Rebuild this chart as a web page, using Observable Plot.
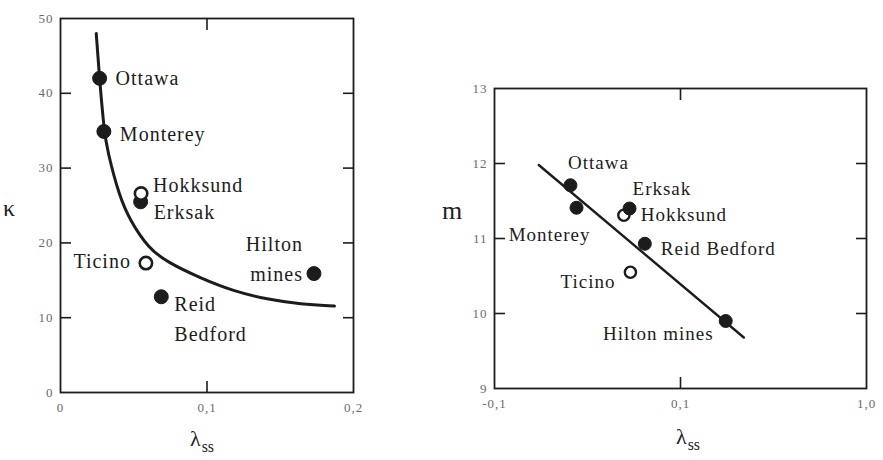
<!DOCTYPE html>
<html>
<head>
<meta charset="utf-8">
<script src="https://cdn.jsdelivr.net/npm/d3@7"></script>
<script src="https://cdn.jsdelivr.net/npm/@observablehq/plot@0.6"></script>
<style>
  body { margin: 0; background: #fff; }
  #chart { position: relative; width: 883px; height: 460px; font-family: "Liberation Serif", "DejaVu Serif", serif; }
  #chart svg { position: absolute; top: 0; }
  .axis-title { position: absolute; color: #222; font-family: "Liberation Serif", serif; line-height: 1; white-space: nowrap; }
  .axis-title sub { font-size: 0.72em; vertical-align: -0.35em; margin-left: 1px; }
</style>
</head>
<body>
<div id="chart"></div>
<script>
// ---- Sites (same order in both panels) ----
const sites = ["Ottawa", "Monterey", "Hokksund", "Erksak", "Ticino", "Reid Bedford", "Hilton mines"];
const openSymbol = [false, false, true, false, true, false, false];

// ---- Panel A: kappa vs lambda_ss ----
const lambdaA = [0.0267, 0.0296, 0.0550, 0.0547, 0.0583, 0.0688, 0.173];
const kappa   = [42.0, 34.9, 26.6, 25.5, 17.3, 12.8, 15.9];
// fitted curve through the data
const curveLambdaA = [0.0244, 0.0266, 0.0298, 0.0319, 0.0400, 0.0475, 0.0600, 0.073, 0.096, 0.118, 0.141, 0.164, 0.187];
const curveKappa   = [48.0, 42.0, 35.0, 32.4, 26.3, 23.0, 19.3, 17.4, 15.25, 13.55, 12.45, 11.8, 11.55];
const kappaTicks = [0, 10, 20, 30, 40, 50];
const lambdaTicksA = [0, 0.1, 0.2];
const lambdaTickLabelsA = ["0", "0,1", "0,2"];

// ---- Panel B: m vs lambda_ss (log axis) ----
const lambdaB = [0.0256, 0.0276, 0.0496, 0.0532, 0.0538, 0.0643, 0.175];
const mValues = [11.71, 11.41, 11.31, 11.40, 10.55, 10.93, 9.90];
const lineLambdaB = [0.0173, 0.219];
const lineM = [11.98, 9.68];
const mTicks = [9, 10, 11, 12, 13];
const lambdaTicksB = [0.01, 0.1, 1];
const lambdaTickLabelsB = ["-0,1", "0,1", "1,0"];

// ---- Label placement (pixels relative to each point) ----
const placeA = {
  "Ottawa":       {text: "Ottawa",        anchor: "start", dx: 16,  dy: -3},
  "Monterey":     {text: "Monterey",      anchor: "start", dx: 16,  dy: 0},
  "Hokksund":     {text: "Hokksund",      anchor: "start", dx: 12,  dy: -11},
  "Erksak":       {text: "Erksak",        anchor: "start", dx: 13,  dy: 8},
  "Ticino":       {text: "Ticino",        anchor: "end",   dx: -15, dy: -5},
  "Reid Bedford": {text: "Reid\nBedford", anchor: "start", dx: 13,  dy: 20},
  "Hilton mines": {text: "Hilton\nmines", anchor: "end",   dx: -11, dy: -17}
};
const placeB = {
  "Ottawa":       {text: "Ottawa",        anchor: "middle", dx: 28,  dy: -25},
  "Monterey":     {text: "Monterey",      anchor: "end",    dx: 14,  dy: 24},
  "Hokksund":     {text: "Hokksund",      anchor: "start",  dx: 17,  dy: -3},
  "Erksak":       {text: "Erksak",        anchor: "start",  dx: 3,   dy: -23},
  "Ticino":       {text: "Ticino",        anchor: "end",    dx: -15, dy: 7},
  "Reid Bedford": {text: "Reid Bedford",  anchor: "start",  dx: 16,  dy: 2},
  "Hilton mines": {text: "Hilton mines",  anchor: "end",    dx: -12, dy: 10}
};

const ink = "#1c1c1c";
const tickInk = "#6a6a6a";

const rowsA = sites.map((s, i) => ({site: s, x: lambdaA[i], y: kappa[i], open: openSymbol[i]}));
const rowsB = sites.map((s, i) => ({site: s, x: lambdaB[i], y: mValues[i], open: openSymbol[i]}));
const curveA = curveLambdaA.map((x, i) => ({x, y: curveKappa[i]}));
const lineB = lineLambdaB.map((x, i) => ({x, y: lineM[i]}));

function labelMarks(rows, place, fontSize) {
  return rows.map(r => {
    const p = place[r.site];
    return Plot.text([r], {
      x: "x", y: "y", text: () => p.text, textAnchor: p.anchor,
      dx: p.dx, dy: p.dy, fontSize, fill: ink, lineHeight: 1.5
    });
  });
}

function axesMarks(yTicks, xTicks, xLabels, tickLen) {
  const innerY = yTicks.slice(1, -1);
  const innerX = xTicks.slice(1, -1);
  return [
    Plot.axisY(yTicks, {anchor: "left", tickSize: 0, tickPadding: 7, fontSize: 13, fill: tickInk, label: null,
      tickFormat: d => String(d)}),
    Plot.axisY(innerY, {anchor: "left", tickSize: -tickLen, text: null, label: null, stroke: ink, strokeWidth: 1.6}),
    Plot.axisY(innerY, {anchor: "right", tickSize: -tickLen, text: null, label: null, stroke: ink, strokeWidth: 1.6}),
    Plot.axisX(xTicks, {anchor: "bottom", tickSize: 0, tickPadding: 10, fontSize: 13, fill: tickInk, label: null,
      tickFormat: d => xLabels[xTicks.indexOf(d)]}),
    Plot.axisX(innerX, {anchor: "bottom", tickSize: -tickLen, text: null, label: null, stroke: ink, strokeWidth: 1.6}),
    Plot.axisX(innerX, {anchor: "top", tickSize: -tickLen, text: null, label: null, stroke: ink, strokeWidth: 1.6}),
    Plot.frame({stroke: ink, strokeWidth: 1.8})
  ];
}

const styleCommon = {fontFamily: "'Liberation Serif', serif", background: "transparent", letterSpacing: "1px", overflow: "visible"};

const plotA = Plot.plot({
  width: 400, height: 460,
  marginLeft: 60, marginRight: 47, marginTop: 18, marginBottom: 68,
  x: {domain: [0, 0.2]},
  y: {domain: [0, 50]},
  style: styleCommon,
  marks: [
    ...axesMarks(kappaTicks, lambdaTicksA, lambdaTickLabelsA, 11),
    Plot.line(curveA, {x: "x", y: "y", curve: "basis", stroke: ink, strokeWidth: 3}),
    Plot.dot(rowsA.filter(d => !d.open), {x: "x", y: "y", r: 7, fill: ink, stroke: ink, strokeWidth: 1}),
    Plot.dot(rowsA.filter(d => d.open), {x: "x", y: "y", r: 6.2, fill: "white", stroke: ink, strokeWidth: 2.6}),
    ...labelMarks(rowsA, placeA, 20)
  ]
});
plotA.style.left = "0px";

const plotB = Plot.plot({
  width: 443, height: 460,
  marginLeft: 54, marginRight: 17, marginTop: 88, marginBottom: 72,
  x: {type: "log", domain: [0.01, 1]},
  y: {domain: [9, 13]},
  style: styleCommon,
  marks: [
    ...axesMarks(mTicks, lambdaTicksB, lambdaTickLabelsB, 11),
    Plot.line(lineB, {x: "x", y: "y", stroke: ink, strokeWidth: 2.4}),
    Plot.dot(rowsB.filter(d => d.open), {x: "x", y: "y", r: 5.6, fill: "white", stroke: ink, strokeWidth: 2.4}),
    Plot.dot(rowsB.filter(d => !d.open), {x: "x", y: "y", r: 6.5, fill: ink, stroke: ink, strokeWidth: 1}),
    ...labelMarks(rowsB, placeB, 19)
  ]
});
plotB.style.left = "440px";

const chart = document.getElementById("chart");
chart.append(plotA, plotB);

// Axis titles
function title(html, left, top, size) {
  const el = document.createElement("div");
  el.className = "axis-title";
  el.innerHTML = html;
  el.style.left = left + "px";
  el.style.top = top + "px";
  el.style.fontSize = size + "px";
  chart.append(el);
}
title("κ", 3, 196, 24);
title("m", 442, 198, 26);
title("λ<sub>ss</sub>", 190, 428, 22);
title("λ<sub>ss</sub>", 676, 426, 22);
</script>
</body>
</html>
